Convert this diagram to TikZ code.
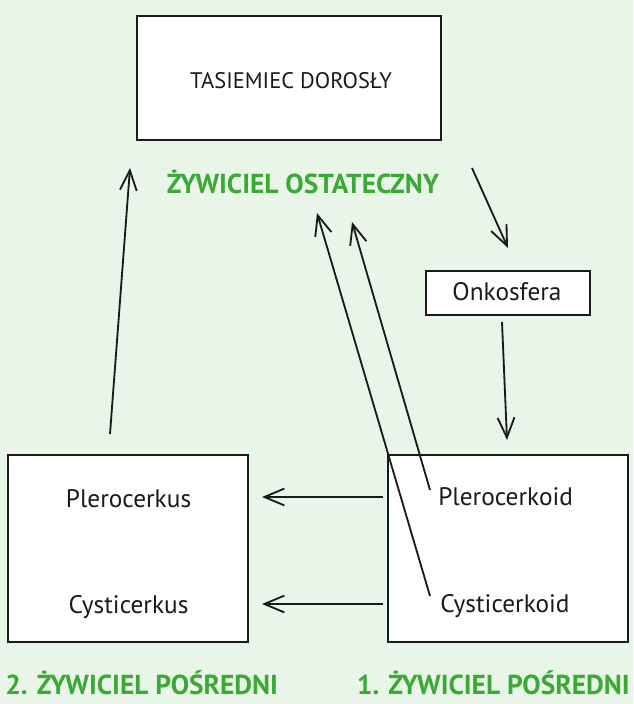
\documentclass[tikz,border=0pt]{standalone}
\usepackage{fontspec}
\setmainfont{PT Sans}
\usetikzlibrary{arrows.meta, positioning}
\definecolor{bgGreen}{HTML}{EAF5EA}
\definecolor{hostGreen}{HTML}{3AAA35}
\definecolor{lineDark}{HTML}{1A1A1A}

\begin{document}
\begin{tikzpicture}[x=0.025cm, y=-0.025cm,
  stage/.style={draw=lineDark, line width=1.4pt, fill=white, inner sep=0pt},
  hostlabel/.style={text=hostGreen, inner sep=0pt,
                    font=\fontsize{19.5}{22}\selectfont\bfseries},
  stagelabel/.style={font=\fontsize{18}{20}\selectfont, text=lineDark, inner sep=0pt},
  link/.style={-{Straight Barb[length=5mm,width=4.2mm]}, line width=1.3pt,
               draw=lineDark}]
  \fill[bgGreen] (0,0) rectangle (633,704);
  \useasboundingbox (0,0) rectangle (633,704);
  % boxes
  \node[stage, minimum width=7.6cm, minimum height=3.1cm] (adult) at (289,78) {};
  \node[stage, minimum width=4.1cm, minimum height=1.1cm] (onko) at (508,293) {};
  \node[stage, minimum width=6cm, minimum height=4.675cm] (second) at (128,548.5) {};
  \node[stage, minimum width=6cm, minimum height=4.675cm] (first) at (508,548.5) {};
  % stage names
  \node[stagelabel, anchor=base, font=\fontsize{16}{18}\selectfont] (adultname) at (291,88) {TASIEMIEC DOROSŁY};
  \node[stagelabel, anchor=base] (onkoname) at (507,300) {Onkosfera};
  \node[stagelabel, anchor=base] (plk) at (128.5,507) {Plerocerkus};
  \node[stagelabel, anchor=base] (cyk) at (128.5,613) {Cysticerkus};
  \node[stagelabel, anchor=base west] (pld) at (438,505) {Plerocerkoid};
  \node[stagelabel, anchor=base west] (cyd) at (440,612) {Cysticerkoid};
  % hosts
  \node[hostlabel, anchor=base] (final) at (303,193) {ŻYWICIEL OSTATECZNY};
  \node[hostlabel, anchor=base west] (host2) at (5,694) {2. ŻYWICIEL POŚREDNI};
  \node[hostlabel, anchor=base east] (host1) at (630,694) {1. ŻYWICIEL POŚREDNI};
  % arrow ends
  \coordinate (a1) at (472,168);
  \coordinate (a2) at (508,248);
  \coordinate (b1) at (502,322);
  \coordinate (b2) at (507,440);
  \coordinate (c1) at (110,434);
  \coordinate (c2) at (130,168);
  \coordinate (d1) at (430,490);
  \coordinate (d2) at (352,222);
  \coordinate (e1) at (430,596);
  \coordinate (e2) at (317,213);
  \coordinate (f1) at (383,497);
  \coordinate (f2) at (262,497);
  \coordinate (g1) at (383,604);
  \coordinate (g2) at (262,604);
  % connectors
  \draw[link] (a1) -- (a2);
  \draw[link] (b1) -- (b2);
  \draw[link] (c1) -- (c2);
  \draw[link] (d1) -- (d2);
  \draw[link] (e1) -- (e2);
  \draw[link] (f1) -- (f2);
  \draw[link] (g1) -- (g2);
\end{tikzpicture}
\end{document}
